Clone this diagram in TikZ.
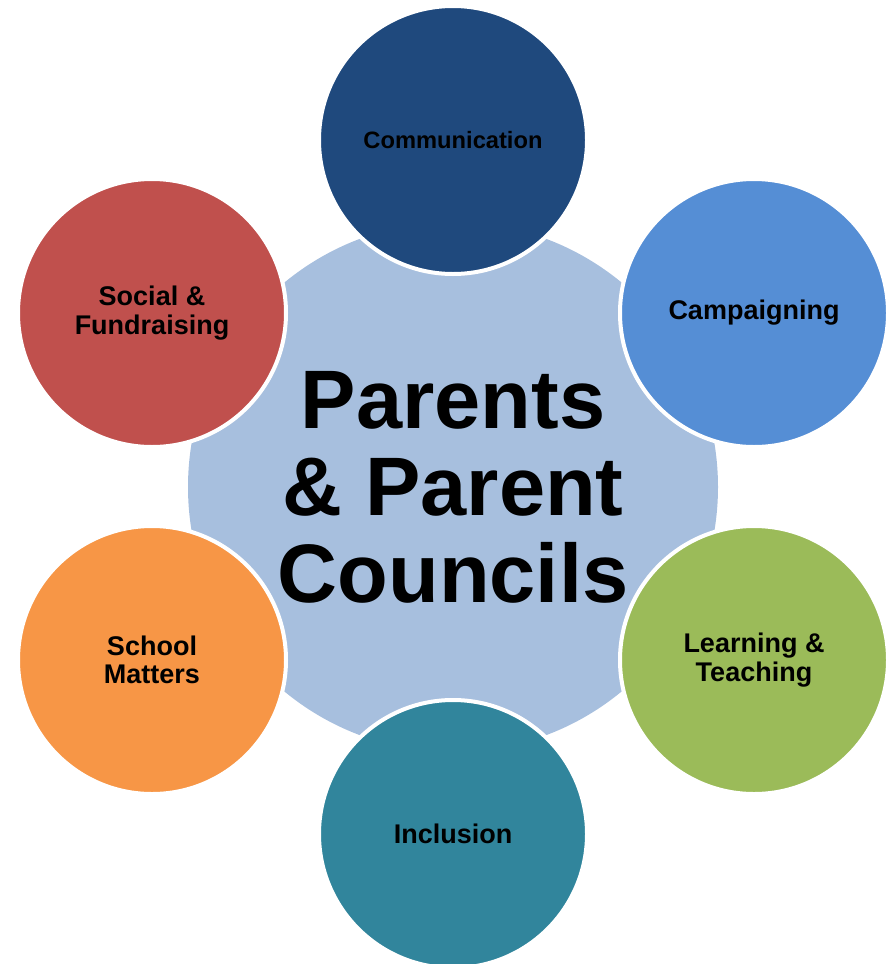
\documentclass[tikz,border=0pt]{standalone}
\usepackage{fontspec}
\setmainfont{Liberation Sans}
\usepackage{xcolor}
\usepackage{tikz}

\definecolor{hubblue}{HTML}{A7BFDE}
\definecolor{commblue}{HTML}{1F497D}
\definecolor{campblue}{HTML}{558ED5}
\definecolor{learngreen}{HTML}{9BBB59}
\definecolor{inclteal}{HTML}{31859C}
\definecolor{schoolorange}{HTML}{F79646}
\definecolor{socialred}{HTML}{C0504D}

\begin{document}
\begin{tikzpicture}[
		x=1pt, y=-1pt,
		hub/.style={circle, fill=hubblue, minimum size=530pt, inner sep=0pt,
			align=center, font=\fontsize{83}{87}\selectfont\bfseries},
		petal/.style={circle, draw=white, line width=4pt, minimum size=268pt,
			inner sep=0pt, align=center, font=\fontsize{27}{28.5}\selectfont\bfseries},
		small label/.style={font=\fontsize{23.7}{28}\selectfont\bfseries}
		]
	
	\useasboundingbox (0, 0) rectangle (888, 964);
	
	% Centre
	\node[hub] (hub) at (453, 487) {Parents\\\& Parent\\Councils};
	
	% Outer circles
	\node[petal, small label, fill=commblue] (comm) at (453, 140) {Communication};
	\node[petal, fill=campblue] (camp) at (754, 313) {Campaigning};
	\node[petal, fill=learngreen] (learn) at (754, 660) {Learning \&\\Teaching};
	\node[petal, fill=inclteal] (incl) at (453, 834) {Inclusion};
	\node[petal, fill=schoolorange] (school) at (152, 660) {School\\Matters};
	\node[petal, fill=socialred] (social) at (152, 313) {Social \&\\Fundraising};
	
\end{tikzpicture}
\end{document}
